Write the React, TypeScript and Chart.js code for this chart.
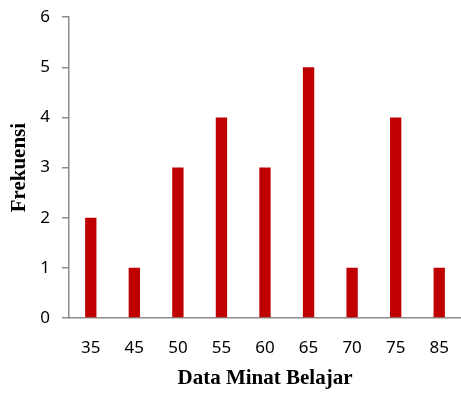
import React, { useEffect, useRef } from "react";
import { Chart, registerables } from "chart.js";

Chart.register(...registerables);

const categories = ["35", "45", "50", "55", "60", "65", "70", "75", "85"];
const frequencies = [2, 1, 3, 4, 3, 5, 1, 4, 1];
const yTicks = [0, 1, 2, 3, 4, 5, 6];

export default function App() {
  const ref = useRef<HTMLCanvasElement | null>(null);
  useEffect(() => {
    if (!ref.current) return;
    const chart = new Chart(ref.current, {
      type: "bar",
      data: {
        labels: categories,
        datasets: [
          {
            data: frequencies,
            backgroundColor: "#C00000",
            borderWidth: 0,
            barPercentage: 0.26,
            categoryPercentage: 1,
          },
        ],
      },
      options: {
        animation: false,
        responsive: false,
        maintainAspectRatio: false,
        layout: { padding: { top: 0, right: 0, left: 0, bottom: 0 } },
        plugins: { legend: { display: false }, tooltip: { enabled: false } },
        scales: {
          x: {
            grid: { drawOnChartArea: false, drawTicks: true, tickLength: 18, color: "rgba(0,0,0,0)" },
            border: { color: "#8c8c8c", width: 1.5 },
            ticks: {
              color: "#000",
              font: { family: "'Noto Sans'", size: 17 },
              padding: 2,
            },
            title: {
              display: true,
              text: "Data Minat Belajar",
              color: "#000",
              font: { family: "'Liberation Serif'", size: 21, weight: "bold" },
              padding: { top: 4, bottom: 3 },
            },
            afterFit: (s: any) => {
              s.height = 76;
            },
          },
          y: {
            min: 0,
            max: 6,
            afterBuildTicks: (s: any) => {
              s.ticks = yTicks.map((v) => ({ value: v }));
            },
            grid: {
              drawOnChartArea: false,
              drawTicks: true,
              tickLength: 7,
              color: "#8c8c8c",
              lineWidth: 1.5,
            },
            border: { color: "#8c8c8c", width: 1.5 },
            ticks: {
              color: "#000",
              font: { family: "'Noto Sans'", size: 17 },
              padding: 12,
            },
            title: {
              display: true,
              text: "Frekuensi",
              color: "#000",
              font: { family: "'Liberation Serif'", size: 21, weight: "bold" },
              padding: { top: 7, bottom: 0 },
            },
            afterFit: (s: any) => {
              s.width = 69;
            },
          },
        },
      },
    });
    return () => chart.destroy();
  }, []);
  return (
    <div style={{ position: "fixed", left: 0, top: 0, width: 461, height: 394, background: "#fff", overflow: "hidden" }}>
      <canvas ref={ref} width={461} height={399} style={{ position: "absolute", left: 0, top: -5 }} />
    </div>
  );
}
